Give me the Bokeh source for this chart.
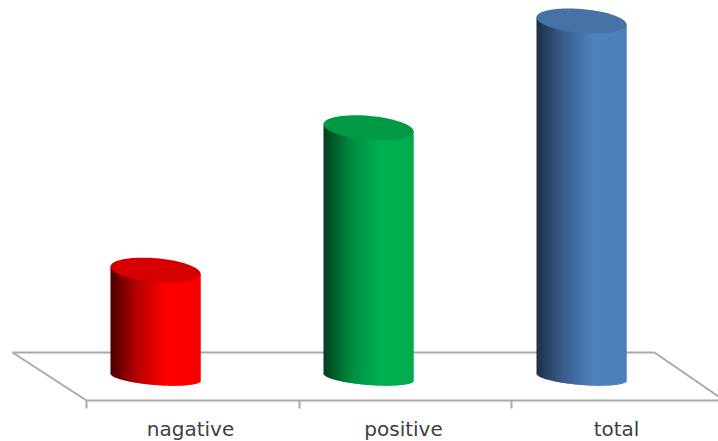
import numpy as np
from bokeh.embed import file_html
from bokeh.models import ColumnDataSource, Range1d
from bokeh.plotting import figure
from bokeh.resources import INLINE
from bokeh.core.properties import value

categories = ["nagative", "positive", "total"]
values = [30, 70, 100]
shades = [
    ["#4a0000", "#b80000", "#ff0000", "#f60000"],
    ["#00401d", "#008a40", "#00b050", "#00ad4e"],
    ["#1d3047", "#3a5f8e", "#4f81bd", "#4e7fbb"],
]
cap_colors = ["#d60000", "#009a46", "#4672a8"]

# Plot scale: pixels per category step and per value unit
STEP = 213.0
UNIT = 3.56
LEFT = 155.0
BASE = 376.5
W, H = 718, 441


def sx(px):
    return (px - LEFT) / STEP


def sy(px):
    return (BASE - px) / UNIT


p = figure(
    width=W, height=H, output_backend="svg", toolbar_location=None,
    x_range=Range1d(sx(0), sx(W)), y_range=Range1d(sy(H), sy(0)),
    min_border=0, outline_line_color=None, background_fill_color="white",
)
p.axis.visible = False
p.grid.visible = False

# Floor of the 3D plot area
GREY = "#a9a9a9"
p.line(sx(np.array([12, 654])), sy(np.array([352, 352])), line_color=GREY, line_width=2)
p.line(sx(np.array([12, 86])), sy(np.array([352, 400])), line_color=GREY, line_width=2)
p.line(sx(np.array([654, 718])), sy(np.array([352, 396])), line_color=GREY, line_width=2)
p.line(sx(np.array([86, 718])), sy(np.array([400, 400])), line_color=GREY, line_width=2)
for tick in (86, 299, 511):
    p.line(sx(np.array([tick, tick])), sy(np.array([400, 408])), line_color=GREY, line_width=2)

# Cylinder shape, in pixels
HALF = 45.0
TOP_B, TOP_S = 12.0, 0.08
BASE_B, BASE_S = 8.0, 0.075


def gradient(stops, t):
    pos = [0.0, 0.3, 0.62, 1.0]
    rgb = np.array([[int(c[i:i + 2], 16) for i in (1, 3, 5)] for c in stops], float)
    mixed = [np.interp(t, pos, rgb[:, k]) for k in range(3)]
    return "#%02x%02x%02x" % tuple(int(round(m)) for m in mixed)


for i, (val, stops, cap) in enumerate(zip(values, shades, cap_colors)):
    # Vertical strips overlap so that every pixel ends up fully covered
    offsets = np.arange(-HALF, HALF, 1.0)
    mid = offsets + 0.5
    arc = np.sqrt(np.clip(1 - (mid / HALF) ** 2, 0, 1))
    strips = ColumnDataSource(dict(
        left=i + offsets / STEP,
        right=i + np.minimum(offsets + 2.0, HALF) / STEP,
        bottom=-(BASE_S * mid + BASE_B * arc) / UNIT,
        top=val - TOP_S * mid / UNIT,
        color=[gradient(stops, (m + HALF) / (2 * HALF)) for m in mid],
    ))
    p.quad(left="left", right="right", bottom="bottom", top="top", source=strips,
           fill_color="color", fill_alpha=1.0, line_color=None)

    # Top cap, a sheared ellipse
    theta = np.linspace(0, 2 * np.pi, 120)
    dx = HALF * np.cos(theta)
    dy = TOP_S * dx + TOP_B * np.sin(theta)
    p.patch(i + dx / STEP, val - dy / UNIT, fill_color=cap, fill_alpha=1.0, line_color=None)

labels = ColumnDataSource(dict(
    x=[i + 35 / STEP for i in range(len(categories))],
    y=[sy(428)] * len(categories),
    text=categories,
))
p.text(x="x", y="y", text="text", source=labels, text_align="center",
       text_baseline="middle", text_color="#404040",
       text_font=value("DejaVu Sans"), text_font_size="20px")

open("out.html", "w").write(file_html(p, INLINE))
